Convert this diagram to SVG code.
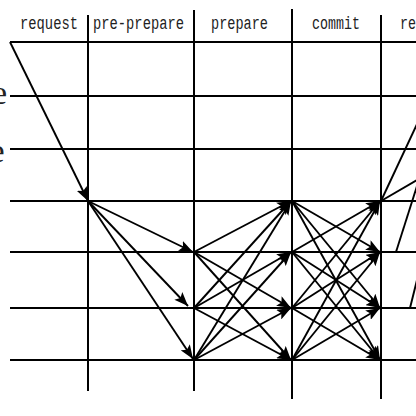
<svg xmlns="http://www.w3.org/2000/svg" width="416" height="416" viewBox="0 0 416 416">
<style>
.grid{stroke:#000;stroke-width:2;fill:none}
.msg{stroke:#000;stroke-width:1.9;fill:none;marker-end:url(#ah)}
.plain{stroke:#000;stroke-width:1.9;fill:none}
.hdr{font-family:"Liberation Mono",monospace;font-size:19px;fill:#222}
.lbl{font-family:"Liberation Serif",serif;font-size:34px;fill:#222}
</style>
<defs>
<marker id="ah" markerUnits="userSpaceOnUse" markerWidth="15" markerHeight="11" refX="14" refY="5.5" orient="auto">
<path d="M0,0 L14,5.5 L0,11 L3,5.5 z" fill="#000"/>
</marker>
</defs>
<rect width="416" height="416" fill="#fff"/>
<g id="headers">
<text class="hdr" x="20" y="29" textLength="58" lengthAdjust="spacingAndGlyphs">request</text>
<text class="hdr" x="93" y="29" textLength="91" lengthAdjust="spacingAndGlyphs">pre-prepare</text>
<text class="hdr" x="211" y="29" textLength="57" lengthAdjust="spacingAndGlyphs">prepare</text>
<text class="hdr" x="312" y="29" textLength="48" lengthAdjust="spacingAndGlyphs">commit</text>
<text class="hdr" x="400" y="29" textLength="16" lengthAdjust="spacingAndGlyphs">re</text>
</g>
<g id="labels">
<text class="lbl" x="-8" y="104">e</text>
<text class="lbl" x="-10.5" y="162">e</text>
</g>
<g id="timelines">
<line class="grid" x1="10" y1="42" x2="416" y2="42"/>
<line class="grid" x1="10" y1="96" x2="416" y2="96"/>
<line class="grid" x1="10" y1="149" x2="416" y2="149"/>
<line class="grid" x1="10" y1="201" x2="416" y2="201"/>
<line class="grid" x1="10" y1="252" x2="416" y2="252"/>
<line class="grid" x1="10" y1="308" x2="416" y2="308"/>
<line class="grid" x1="10" y1="360" x2="416" y2="360"/>
</g>
<g id="phases">
<line class="grid" x1="88" y1="15" x2="88" y2="391"/>
<line class="grid" x1="194" y1="10" x2="194" y2="391"/>
<line class="grid" x1="292" y1="9" x2="292" y2="399"/>
<line class="grid" x1="381" y1="15" x2="381" y2="399"/>
</g>
<g id="connectors">
<line class="msg" x1="10" y1="42" x2="88" y2="201"/>
<line class="msg" x1="88" y1="201" x2="193" y2="252"/>
<line class="msg" x1="88" y1="201" x2="188" y2="306"/>
<line class="msg" x1="88" y1="201" x2="193" y2="359"/>
<line class="msg" x1="194" y1="252" x2="291" y2="201"/>
<line class="msg" x1="194" y1="252" x2="291" y2="308"/>
<line class="msg" x1="194" y1="252" x2="291" y2="360"/>
<line class="msg" x1="194" y1="308" x2="291" y2="201"/>
<line class="msg" x1="194" y1="308" x2="291" y2="252"/>
<line class="msg" x1="194" y1="308" x2="291" y2="360"/>
<line class="msg" x1="194" y1="360" x2="291" y2="201"/>
<line class="msg" x1="194" y1="360" x2="291" y2="252"/>
<line class="msg" x1="194" y1="360" x2="291" y2="308"/>
<line class="msg" x1="292" y1="201" x2="380" y2="252"/>
<line class="msg" x1="292" y1="201" x2="380" y2="308"/>
<line class="msg" x1="292" y1="201" x2="380" y2="360"/>
<line class="msg" x1="292" y1="252" x2="380" y2="201"/>
<line class="msg" x1="292" y1="252" x2="380" y2="308"/>
<line class="msg" x1="292" y1="252" x2="380" y2="360"/>
<line class="msg" x1="292" y1="308" x2="380" y2="201"/>
<line class="msg" x1="292" y1="308" x2="380" y2="252"/>
<line class="msg" x1="292" y1="308" x2="380" y2="360"/>
<line class="msg" x1="292" y1="360" x2="380" y2="201"/>
<line class="msg" x1="292" y1="360" x2="380" y2="252"/>
<line class="msg" x1="292" y1="360" x2="380" y2="308"/>
<line class="plain" x1="381" y1="201" x2="417" y2="124"/>
<line class="plain" x1="381" y1="201" x2="417" y2="180"/>
<line class="plain" x1="396" y1="252" x2="417" y2="186"/>
<line class="plain" x1="410" y1="308" x2="417" y2="280"/>
</g>
</svg>
